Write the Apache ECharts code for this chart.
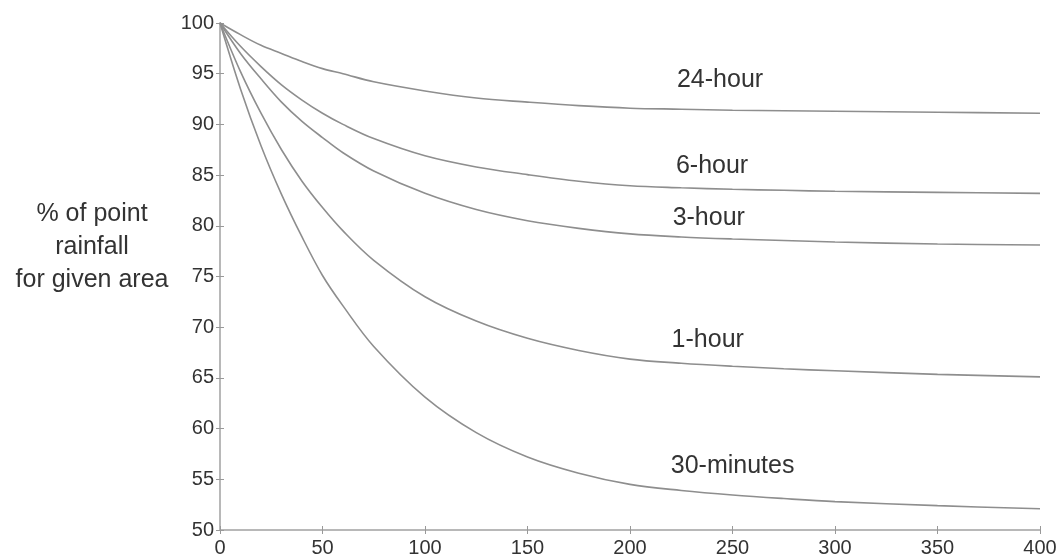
<!DOCTYPE html>
<html>
<head>
<meta charset="utf-8">
<title>Areal reduction of point rainfall</title>
<script src="https://cdn.jsdelivr.net/npm/echarts@6/dist/echarts.min.js"></script>
<style>
  html, body { margin: 0; padding: 0; background: #fff; }
  #chart { width: 1064px; height: 558px; }
</style>
</head>
<body>
<div id="chart"></div>
<script>
// area values along the x axis
const area = [0, 10, 20, 30, 40, 50, 60, 75, 100, 125, 150, 175, 200, 225, 250, 275, 300, 350, 400]

// % of point rainfall, one list per storm duration
const hour24 = [100, 98.85, 97.8, 97.0, 96.2, 95.5, 95.0, 94.2, 93.3, 92.6, 92.2, 91.85, 91.6, 91.5, 91.4, 91.35, 91.3, 91.2, 91.1]
const hour6 = [100, 97.7, 95.7, 93.9, 92.4, 91.1, 90.0, 88.6, 86.9, 85.8, 85.05, 84.4, 83.95, 83.75, 83.6, 83.5, 83.4, 83.3, 83.2]
const hour3 = [100, 97.0, 94.5, 92.2, 90.3, 88.7, 87.2, 85.4, 83.2, 81.6, 80.5, 79.75, 79.2, 78.9, 78.7, 78.55, 78.4, 78.2, 78.1]
const hour1 = [100, 95.2, 91.1, 87.5, 84.4, 81.8, 79.5, 76.6, 73.0, 70.6, 68.9, 67.7, 66.85, 66.45, 66.15, 65.9, 65.7, 65.35, 65.1]
const min30 = [100, 93.5, 87.9, 83.1, 78.9, 75.1, 72.1, 68.1, 63.1, 59.6, 57.2, 55.6, 54.5, 53.9, 53.45, 53.1, 52.8, 52.4, 52.1]

const names = ['24-hour', '6-hour', '3-hour', '1-hour', '30-minutes']
const values = [hour24, hour6, hour3, hour1, min30]
// where each curve's name is written (area, %)
const labelAt = [[222.9, 94.4], [222.4, 85.9], [220.8, 80.75], [220.3, 68.75], [219.9, 56.3]]

const chart = echarts.init(document.getElementById('chart'), null, {renderer: 'canvas'})

const textColor = '#333'
const axisColor = '#b8b8b8'
const font = 'Liberation Sans, Arial, sans-serif'

chart.setOption({
  animation: false,
  backgroundColor: '#fff',
  grid: {left: 220, right: 24, top: 23, bottom: 25},
  graphic: [{
    type: 'text',
    x: 92,
    y: 247,
    style: {
      text: '% of point\nrainfall\nfor given area',
      textAlign: 'center',
      textVerticalAlign: 'middle',
      fontSize: 25,
      lineHeight: 33,
      fontFamily: font,
      fill: textColor
    }
  }],
  xAxis: [{
    type: 'value',
    min: 0,
    max: 400,
    interval: 50,
    splitLine: {show: false},
    axisLine: {lineStyle: {color: axisColor, width: 2}},
    axisTick: {length: 4, lineStyle: {color: '#999'}},
    axisLabel: {fontSize: 20, color: textColor, fontFamily: font, margin: 8}
  }, {
    type: 'value',
    min: 0,
    max: 400,
    interval: 50,
    position: 'bottom',
    splitLine: {show: false},
    axisLine: {show: false},
    axisTick: {inside: true, length: 4, lineStyle: {color: '#999'}},
    axisLabel: {show: false}
  }],
  yAxis: [{
    type: 'value',
    min: 50,
    max: 100,
    interval: 5,
    splitLine: {show: false},
    axisLine: {show: true, lineStyle: {color: axisColor, width: 2}},
    axisTick: {show: true, length: 4, lineStyle: {color: '#999'}},
    axisLabel: {fontSize: 20, color: textColor, fontFamily: font, margin: 6}
  }, {
    type: 'value',
    min: 50,
    max: 100,
    interval: 5,
    position: 'left',
    splitLine: {show: false},
    axisLine: {show: false},
    axisTick: {show: true, inside: true, length: 4, lineStyle: {color: '#999'}},
    axisLabel: {show: false}
  }],
  series: names.map((name, i) => ({
    name: name,
    type: 'line',
    smooth: 0.35,
    showSymbol: false,
    lineStyle: {color: '#8e8e8e', width: 1.6},
    data: area.map((x, j) => [x, values[i][j]]),
    markPoint: {
      symbol: 'circle',
      symbolSize: 0,
      data: [{name: name, coord: labelAt[i]}],
      label: {
        show: true,
        position: 'right',
        distance: 0,
        formatter: '{b}',
        fontSize: 25,
        fontFamily: font,
        color: textColor
      }
    }
  }))
})
</script>
</body>
</html>
